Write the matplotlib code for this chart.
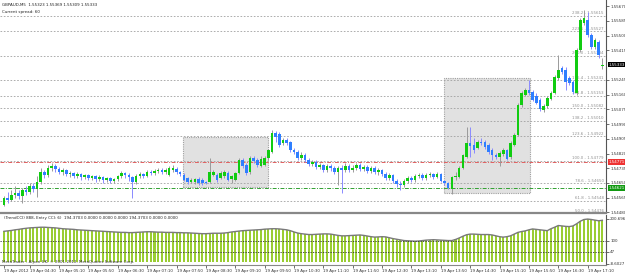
import matplotlib.pyplot as plt
from matplotlib.patches import Rectangle

plt.rcParams['font.family'] = 'DejaVu Sans'

W, H = 625, 274
FS = 2.9

title_text = 'GBPAUD,M5  1.55323 1.55369 1.55309 1.55333'
spread_text = 'Current spread: 60'

# M5 bars, 19 Apr 03:55 .. 17:30
bar_open = [
    1.54524, 1.54564, 1.54552, 1.54581, 1.54593, 1.54575, 1.54610, 1.54599, 1.54633, 1.54616,
    1.54656, 1.54714, 1.54697, 1.54737, 1.54748, 1.54731, 1.54714, 1.54725, 1.54702, 1.54708,
    1.54691, 1.54702, 1.54685, 1.54697, 1.54679, 1.54691, 1.54673, 1.54685, 1.54668, 1.54679,
    1.54662, 1.54673, 1.54691, 1.54708, 1.54697, 1.54685, 1.54656, 1.54691, 1.54702, 1.54691,
    1.54714, 1.54708, 1.54720, 1.54725, 1.54714, 1.54697, 1.54725, 1.54731, 1.54714, 1.54697,
    1.54679, 1.54656, 1.54656, 1.54673, 1.54668, 1.54656, 1.54656, 1.54697, 1.54697, 1.54679,
    1.54691, 1.54708, 1.54673, 1.54668, 1.54708, 1.54783, 1.54754, 1.54714, 1.54794, 1.54783,
    1.54748, 1.54754, 1.54794, 1.54829, 1.54939, 1.54933, 1.54881, 1.54898, 1.54887, 1.54841,
    1.54829, 1.54794, 1.54812, 1.54783, 1.54760, 1.54771, 1.54743, 1.54754, 1.54725, 1.54748,
    1.54737, 1.54714, 1.54737, 1.54725, 1.54748, 1.54725, 1.54737, 1.54754, 1.54731, 1.54743,
    1.54720, 1.54737, 1.54714, 1.54725, 1.54702, 1.54679, 1.54697, 1.54662, 1.54645, 1.54639,
    1.54662, 1.54679, 1.54668, 1.54691, 1.54697, 1.54679, 1.54697, 1.54702, 1.54685, 1.54702,
    1.54662, 1.54650, 1.54616, 1.54685, 1.54685, 1.54737, 1.54800, 1.54881, 1.54869, 1.54852,
    1.54887, 1.54887, 1.54869, 1.54841, 1.54812, 1.54800, 1.54818, 1.54841, 1.54800, 1.54869,
    1.54927, 1.55100, 1.55158, 1.55186, 1.55175, 1.55152, 1.55129, 1.55071, 1.55094, 1.55134,
    1.55169, 1.55255, 1.55313, 1.55302, 1.55255, 1.55232, 1.55169, 1.55417, 1.55572, 1.55590,
    1.55503, 1.55434, 1.55463, 1.55323]
bar_high = [
    1.54575, 1.54599, 1.54610, 1.54633, 1.54610, 1.54622, 1.54633, 1.54650, 1.54650, 1.54691,
    1.54737, 1.54725, 1.54754, 1.54766, 1.54760, 1.54743, 1.54737, 1.54731, 1.54720, 1.54714,
    1.54714, 1.54708, 1.54702, 1.54702, 1.54697, 1.54697, 1.54697, 1.54691, 1.54685, 1.54685,
    1.54679, 1.54697, 1.54720, 1.54714, 1.54708, 1.54691, 1.54702, 1.54714, 1.54708, 1.54725,
    1.54725, 1.54731, 1.54737, 1.54737, 1.54737, 1.54748, 1.54754, 1.54743, 1.54720, 1.54708,
    1.54685, 1.54679, 1.54679, 1.54685, 1.54679, 1.54662, 1.54794, 1.54725, 1.54708, 1.54720,
    1.54725, 1.54720, 1.54697, 1.54714, 1.54794, 1.54794, 1.54766, 1.54806, 1.54806, 1.54794,
    1.54806, 1.54806, 1.54846, 1.54956, 1.54950, 1.54944, 1.54910, 1.54910, 1.54892, 1.54852,
    1.54841, 1.54829, 1.54823, 1.54794, 1.54783, 1.54783, 1.54766, 1.54760, 1.54760, 1.54760,
    1.54748, 1.54748, 1.54754, 1.54766, 1.54760, 1.54754, 1.54766, 1.54766, 1.54754, 1.54754,
    1.54748, 1.54748, 1.54737, 1.54731, 1.54714, 1.54708, 1.54702, 1.54673, 1.54662, 1.54673,
    1.54691, 1.54691, 1.54702, 1.54708, 1.54708, 1.54708, 1.54714, 1.54708, 1.54714, 1.54708,
    1.54668, 1.54656, 1.54691, 1.54714, 1.54748, 1.54818, 1.54973, 1.54973, 1.54910, 1.54898,
    1.54910, 1.54898, 1.54881, 1.54852, 1.54823, 1.54835, 1.54852, 1.54846, 1.54892, 1.54939,
    1.55111, 1.55181, 1.55198, 1.55244, 1.55186, 1.55169, 1.55140, 1.55106, 1.55152, 1.55181,
    1.55273, 1.55388, 1.55325, 1.55319, 1.55267, 1.55244, 1.55428, 1.55601, 1.55647, 1.55636,
    1.55515, 1.55486, 1.55474, 1.55369]
bar_low = [
    1.54518, 1.54535, 1.54547, 1.54564, 1.54558, 1.54535, 1.54581, 1.54587, 1.54599, 1.54570,
    1.54645, 1.54679, 1.54685, 1.54720, 1.54714, 1.54702, 1.54697, 1.54691, 1.54685, 1.54679,
    1.54679, 1.54668, 1.54673, 1.54668, 1.54668, 1.54656, 1.54662, 1.54650, 1.54656, 1.54650,
    1.54650, 1.54662, 1.54679, 1.54679, 1.54662, 1.54564, 1.54645, 1.54679, 1.54679, 1.54685,
    1.54697, 1.54697, 1.54708, 1.54702, 1.54702, 1.54691, 1.54714, 1.54702, 1.54691, 1.54662,
    1.54645, 1.54650, 1.54645, 1.54639, 1.54639, 1.54645, 1.54650, 1.54691, 1.54656, 1.54673,
    1.54679, 1.54662, 1.54650, 1.54662, 1.54702, 1.54737, 1.54697, 1.54702, 1.54766, 1.54743,
    1.54743, 1.54748, 1.54783, 1.54823, 1.54887, 1.54858, 1.54869, 1.54869, 1.54829, 1.54818,
    1.54783, 1.54783, 1.54771, 1.54748, 1.54748, 1.54731, 1.54731, 1.54714, 1.54714, 1.54720,
    1.54702, 1.54639, 1.54593, 1.54714, 1.54714, 1.54714, 1.54725, 1.54720, 1.54720, 1.54708,
    1.54708, 1.54702, 1.54697, 1.54691, 1.54668, 1.54668, 1.54650, 1.54627, 1.54610, 1.54627,
    1.54650, 1.54656, 1.54656, 1.54679, 1.54668, 1.54668, 1.54685, 1.54673, 1.54679, 1.54656,
    1.54639, 1.54616, 1.54587, 1.54668, 1.54679, 1.54731, 1.54794, 1.54800, 1.54823, 1.54846,
    1.54869, 1.54846, 1.54818, 1.54783, 1.54789, 1.54748, 1.54806, 1.54783, 1.54789, 1.54864,
    1.54921, 1.55088, 1.55152, 1.55158, 1.55123, 1.55106, 1.55065, 1.55060, 1.55083, 1.55129,
    1.55163, 1.55244, 1.55279, 1.55186, 1.55215, 1.55163, 1.55158, 1.55405, 1.55561, 1.55492,
    1.55423, 1.55423, 1.55371, 1.55309]
bar_close = [
    1.54564, 1.54552, 1.54581, 1.54593, 1.54575, 1.54610, 1.54599, 1.54633, 1.54616, 1.54656,
    1.54714, 1.54697, 1.54737, 1.54748, 1.54731, 1.54714, 1.54725, 1.54702, 1.54708, 1.54691,
    1.54702, 1.54685, 1.54697, 1.54679, 1.54691, 1.54673, 1.54685, 1.54668, 1.54679, 1.54662,
    1.54673, 1.54691, 1.54708, 1.54697, 1.54685, 1.54656, 1.54691, 1.54702, 1.54691, 1.54714,
    1.54708, 1.54720, 1.54725, 1.54714, 1.54725, 1.54737, 1.54737, 1.54714, 1.54702, 1.54668,
    1.54656, 1.54668, 1.54673, 1.54650, 1.54650, 1.54650, 1.54714, 1.54714, 1.54668, 1.54708,
    1.54714, 1.54668, 1.54691, 1.54708, 1.54783, 1.54748, 1.54708, 1.54794, 1.54777, 1.54754,
    1.54789, 1.54794, 1.54841, 1.54939, 1.54915, 1.54869, 1.54898, 1.54881, 1.54841, 1.54829,
    1.54794, 1.54812, 1.54783, 1.54760, 1.54771, 1.54743, 1.54754, 1.54725, 1.54748, 1.54737,
    1.54714, 1.54737, 1.54725, 1.54748, 1.54725, 1.54737, 1.54754, 1.54731, 1.54743, 1.54720,
    1.54737, 1.54714, 1.54725, 1.54702, 1.54679, 1.54697, 1.54662, 1.54645, 1.54639, 1.54662,
    1.54679, 1.54668, 1.54691, 1.54697, 1.54679, 1.54697, 1.54702, 1.54685, 1.54702, 1.54662,
    1.54650, 1.54622, 1.54685, 1.54691, 1.54737, 1.54812, 1.54881, 1.54864, 1.54841, 1.54887,
    1.54881, 1.54858, 1.54829, 1.54812, 1.54800, 1.54823, 1.54841, 1.54789, 1.54881, 1.54927,
    1.55100, 1.55169, 1.55186, 1.55169, 1.55129, 1.55111, 1.55077, 1.55094, 1.55140, 1.55169,
    1.55261, 1.55302, 1.55290, 1.55232, 1.55227, 1.55175, 1.55417, 1.55590, 1.55601, 1.55503,
    1.55434, 1.55474, 1.55388, 1.55333]

cci = [143, 145, 147, 150, 152, 155, 157, 159, 160, 161, 162, 162, 161, 160, 159,
       157, 155, 154, 153, 152, 150, 149, 148, 147, 146, 145, 144, 143, 142, 141,
       140, 139, 138, 138, 137, 137, 138, 139, 140, 141, 141, 140, 139, 139, 138,
       138, 138, 137, 137, 136, 136, 135, 134, 133, 132, 132, 133, 134, 134, 134,
       135, 137, 140, 142, 144, 146, 147, 148, 149, 150, 151, 153, 154, 155, 155,
       154, 152, 150, 146, 140, 135, 132, 130, 128, 128, 129, 130, 131, 131, 130,
       127, 124, 122, 122, 123, 124, 125, 126, 124, 121, 118, 116, 117, 118, 117,
       113, 109, 106, 103, 100, 99, 98, 97, 98, 100, 102, 103, 104, 103, 102,
       101, 100, 100, 105, 112, 120, 127, 130, 130, 129, 128, 128, 128, 126, 122,
       118, 116, 118, 122, 130, 138, 142, 145, 150, 154, 152, 150, 148, 146, 155,
       162, 170, 168, 166, 165, 168, 178, 190, 198, 200, 198, 195, 192, 194.37]

time_labels = ['19 Apr 2012', '19 Apr 04:30', '19 Apr 05:10', '19 Apr 05:50', '19 Apr 06:30',
               '19 Apr 07:10', '19 Apr 07:50', '19 Apr 08:30', '19 Apr 09:10', '19 Apr 09:50',
               '19 Apr 10:30', '19 Apr 11:10', '19 Apr 11:50', '19 Apr 12:30', '19 Apr 13:10',
               '19 Apr 13:50', '19 Apr 14:30', '19 Apr 15:10', '19 Apr 15:50', '19 Apr 16:30',
               '19 Apr 17:10']
time_label_bars = [0, 7, 15, 23, 31, 39, 47, 55, 63, 71, 79, 87, 95, 103, 111, 119, 127,
                   135, 143, 151, 159]

# 1.55330 sits under the current-price marker, so it is not printed
price_ticks = [1.55670, 1.55585, 1.55500, 1.55415, 1.55245, 1.55160, 1.55075,
               1.54990, 1.54905, 1.54820, 1.54735, 1.54650, 1.54565, 1.54480]

fib_levels = [50.0, 61.8, 78.6, 100.0, 123.6, 138.2, 150.0, 161.8, 176.4, 200.0, 223.6, 238.2]
fib_zero = 1.54174
fib_hundred = 1.54779

red_level = 1.54771
green_level = 1.54621
current_price = 1.55333

# rectangles: bar from, bar to, price low, price high
boxes = [(48.8, 72.0, 1.54627, 1.54915),
         (120.0, 143.3, 1.54593, 1.55255)]

cci_ticks = [-8.6027, 47, 100, 200.696]
cci_tick_labels = ['-8.6027', '47', '100', '200.696']
cci_legend = '(TrendCCI) 888, Entry CCI: 6)  194.3703 0.0000 0.0000 0.0000 194.3703 0.0000 0.0000'
copyright_text = 'MetaTrader - Alpari UK, \u00a9 2001-2012, MetaQuotes Software Corp.'

fig = plt.figure(figsize=(W / 100, H / 100), dpi=100)


def px_axes(x0, y0, x1, y1):
    return fig.add_axes([x0 / W, 1 - y1 / H, (x1 - x0) / W, (y1 - y0) / H])


ax = px_axes(0, 0, 606, 213)
ax2 = px_axes(0, 215, 606, 265)

n = len(bar_close)
xs = list(range(n))

for a in (ax, ax2):
    a.set_xlim(-1.09, 164.0)
    for s in ('top', 'left'):
        a.spines[s].set_visible(False)
    a.spines['right'].set_color('#555555')
    a.spines['bottom'].set_color('#888888')
    a.spines['right'].set_linewidth(0.8)

ax.spines['bottom'].set_linewidth(1.6)
ax.set_ylim(1.54477, 1.55705)

# rectangles
for b0, b1, p0, p1 in boxes:
    ax.add_patch(Rectangle((b0, p0), b1 - b0, p1 - p0, facecolor='#e1e1e1',
                           edgecolor='#a0a0a0', linewidth=0.8, linestyle=(0, (1, 1)), zorder=1))

# fibonacci levels
for lv in fib_levels:
    p = fib_zero + (fib_hundred - fib_zero) * lv / 100.0
    ax.axhline(p, color='#a0a0a0', linewidth=0.6, linestyle=(0, (2, 2)), zorder=1.5)
    ax.text(163.4, p + 0.00002, '%.1f - %.5f' % (lv, p), fontsize=FS, color='#909090',
            ha='right', va='bottom', zorder=2)

ax.axhline(red_level, color='#e06060', linewidth=0.7, linestyle=(0, (4, 1.5, 1, 1.5)), zorder=1.6)
ax.axhline(green_level, color='#30a030', linewidth=0.7, linestyle=(0, (4, 1.5, 1, 1.5)), zorder=1.6)

# candles
for i in xs:
    o, c = bar_open[i], bar_close[i]
    up = c >= o
    wick = '#9a9a9a' if up else '#8a8aff'
    body = '#11cc11' if up else '#2f7fff'
    ax.vlines(i, bar_low[i], bar_high[i], color=wick, linewidth=0.7, zorder=3)
    ax.bar(i, max(abs(c - o), 0.000012), bottom=min(o, c), width=0.7, color=body,
           linewidth=0, zorder=4)

ax.yaxis.tick_right()
ax.set_yticks(price_ticks)
ax.set_yticklabels(['%.5f' % p for p in price_ticks])
ax.tick_params(axis='y', labelsize=FS, length=2, pad=1, colors='#333333', width=0.5)
ax.set_xticks([])

box_kw = dict(fontsize=FS, ha='left', va='center', clip_on=False, zorder=10,
              transform=ax.get_yaxis_transform())
ax.text(1.004, current_price, '%.5f' % current_price, color='white',
        bbox=dict(boxstyle='square,pad=0.2', fc='black', ec='none'), **box_kw)
ax.text(1.004, red_level, '%.5f' % red_level, color='white',
        bbox=dict(boxstyle='square,pad=0.2', fc='#ee3333', ec='none'), **box_kw)
ax.text(1.004, green_level, '%.5f' % green_level, color='white',
        bbox=dict(boxstyle='square,pad=0.2', fc='#119911', ec='none'), **box_kw)

ax.text(0.004, 0.985, title_text, transform=ax.transAxes, fontsize=FS, color='#222222',
        ha='left', va='top')
ax.text(0.004, 0.955, spread_text, transform=ax.transAxes, fontsize=FS, color='#222222',
        ha='left', va='top')

# indicator panel
ax2.set_ylim(-13.7, 218.9)
ax2.bar(xs, cci, width=0.55, color='#9acd32', linewidth=0, zorder=2)
ax2.plot(xs, cci, color='#7a7a7a', linewidth=1.0, zorder=3)
for lv in (100, 47):
    ax2.axhline(lv, color='#333333', linewidth=0.6, linestyle=(0, (1.5, 1.5)), zorder=4)
ax2.yaxis.tick_right()
ax2.set_yticks(cci_ticks)
ax2.set_yticklabels(cci_tick_labels)
ax2.tick_params(axis='y', labelsize=FS, length=2, pad=1, colors='#333333', width=0.5)
ax2.set_xticks(time_label_bars)
ax2.set_xticklabels(time_labels)
for t in ax2.get_xticklabels():
    t.set_ha('left')
ax2.tick_params(axis='x', labelsize=FS, length=2, pad=1, colors='#333333', width=0.5)
ax2.text(0.006, 0.97, cci_legend, transform=ax2.transAxes, fontsize=FS, color='#222222',
         ha='left', va='top', zorder=6)
ax2.text(0.004, 0.03, copyright_text, transform=ax2.transAxes, fontsize=FS, color='#333333',
         ha='left', va='bottom', zorder=6)

fig.savefig('out.png', dpi=100, facecolor='white')
